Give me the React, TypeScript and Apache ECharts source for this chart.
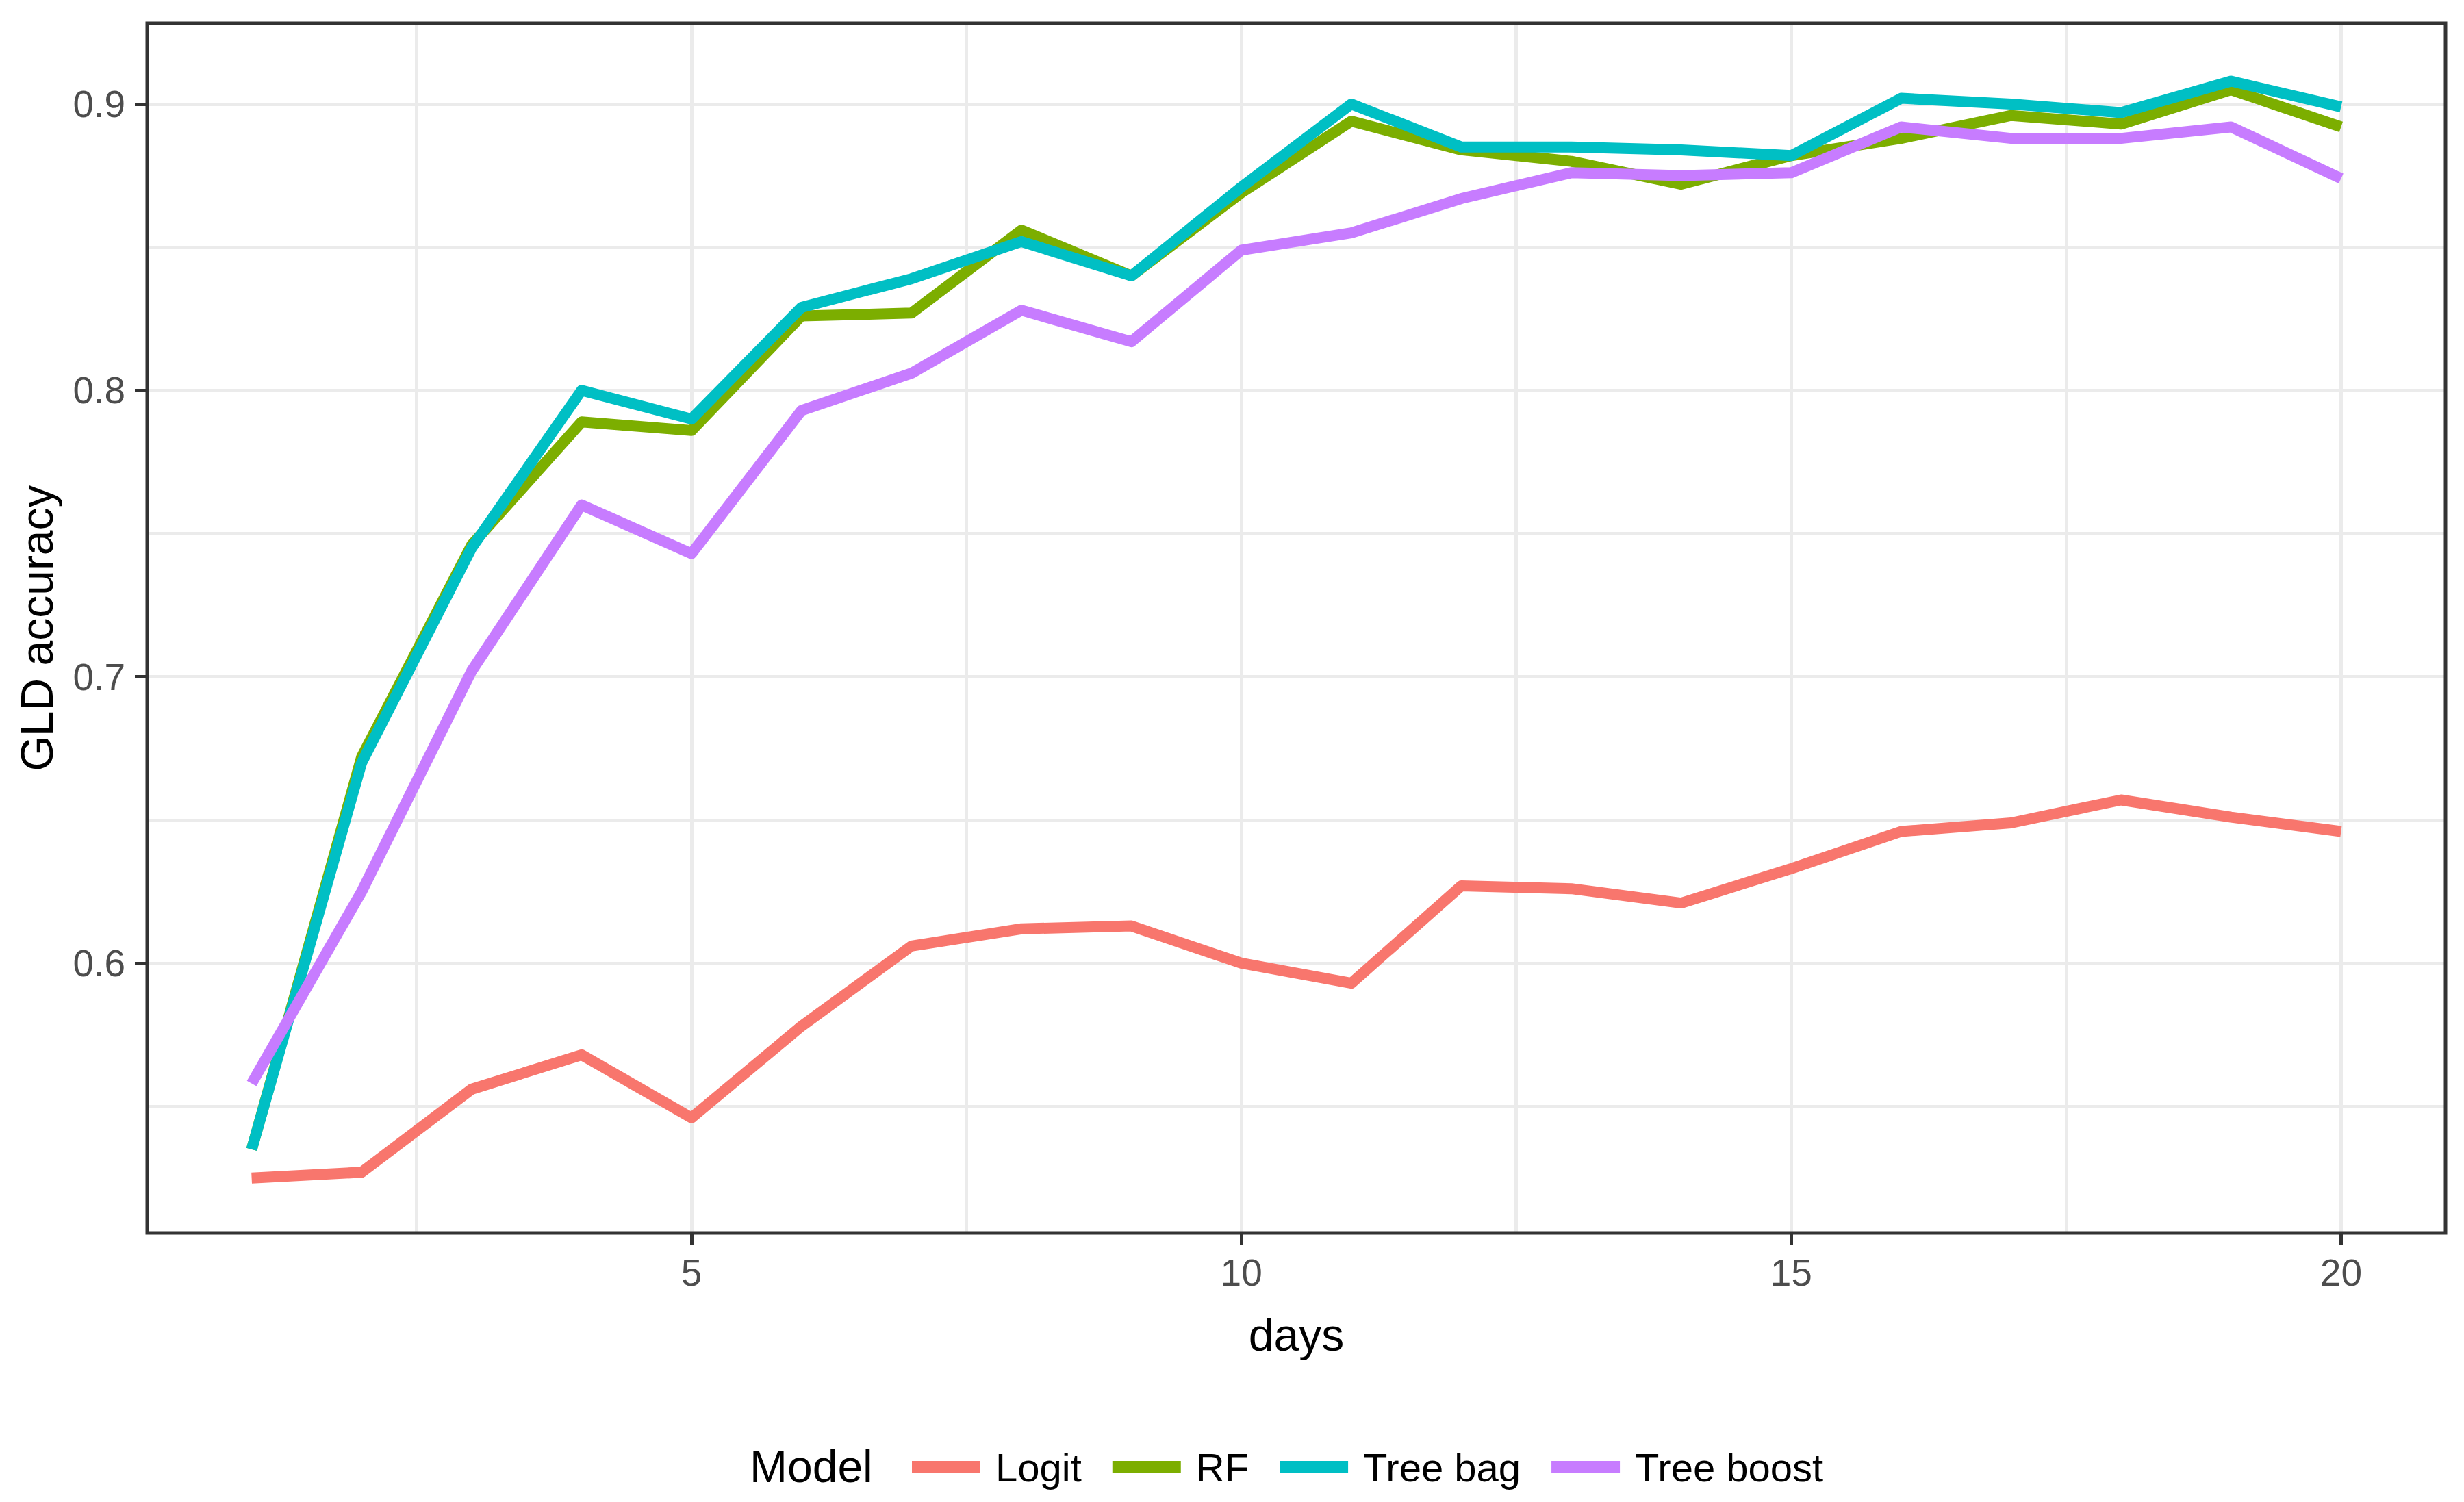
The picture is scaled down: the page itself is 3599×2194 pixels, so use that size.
import React, { useEffect, useRef } from "react";
import * as echarts from "echarts";

const days = [1, 2, 3, 4, 5, 6, 7, 8, 9, 10, 11, 12, 13, 14, 15, 16, 17, 18, 19, 20];
const logit = [0.525, 0.527, 0.556, 0.568, 0.546, 0.578, 0.606, 0.612, 0.613, 0.600, 0.593, 0.627, 0.626, 0.621, 0.633, 0.646, 0.649, 0.657, 0.651, 0.646];
const rf = [0.535, 0.672, 0.746, 0.789, 0.786, 0.826, 0.827, 0.856, 0.840, 0.869, 0.894, 0.884, 0.880, 0.872, 0.882, 0.888, 0.896, 0.893, 0.905, 0.892];
const treeBag = [0.535, 0.670, 0.745, 0.800, 0.790, 0.829, 0.839, 0.852, 0.840, 0.871, 0.900, 0.885, 0.885, 0.884, 0.882, 0.902, 0.900, 0.897, 0.908, 0.899];
const treeBoost = [0.558, 0.625, 0.702, 0.760, 0.743, 0.793, 0.806, 0.828, 0.817, 0.849, 0.855, 0.867, 0.876, 0.875, 0.876, 0.892, 0.888, 0.888, 0.892, 0.874];

const seriesNames = ["Logit", "RF", "Tree bag", "Tree boost"];
const seriesValues = [logit, rf, treeBag, treeBoost];
const seriesColors = ["#F8766D", "#7CAE00", "#00BFC4", "#C77CFF"];

const xTicks = [5, 10, 15, 20];
const yTicks = [0.6, 0.7, 0.8, 0.9];
const xGridValues = [2.5, 5, 7.5, 10, 12.5, 15, 17.5, 20];
const yGridValues = [0.55, 0.6, 0.65, 0.7, 0.75, 0.8, 0.85, 0.9];
const xRange = [0.05, 20.95];
const yRange = [0.5058, 0.9282];

const FONT = "'Liberation Sans', Arial, Helvetica, sans-serif";

export default function App() {
  const ref = useRef<HTMLDivElement | null>(null);

  useEffect(() => {
    if (!ref.current) return;
    const chart = echarts.init(ref.current, undefined, { renderer: "svg" });

    const gridLineData = [
      ...yGridValues.map((v) => ({ yAxis: v })),
      ...xGridValues.map((v) => ({ xAxis: v })),
    ];

    const series = seriesNames.map((name, i) => ({
      type: "line",
      name,
      data: days.map((d, j) => [d, seriesValues[i][j]]),
      showSymbol: false,
      symbol: "none",
      z: 2,
      lineStyle: { color: seriesColors[i], width: 16, join: "round", cap: "butt" },
      itemStyle: { color: seriesColors[i] },
      emphasis: { disabled: true },
      ...(i === 0
        ? {
            markLine: {
              silent: true,
              z: 1,
              symbol: ["none", "none"],
              label: { show: false },
              emphasis: { disabled: true },
              lineStyle: { color: "#EBEBEB", width: 5, type: "solid" },
              data: gridLineData,
              animation: false,
            },
          }
        : {}),
    }));

    chart.setOption({
      animation: false,
      backgroundColor: "#FFFFFF",
      textStyle: { fontFamily: FONT },
      grid: {
        left: 215,
        right: 27,
        top: 34,
        bottom: 393,
        show: true,
        borderColor: "#333333",
        borderWidth: 5,
        backgroundColor: "transparent",
        z: 3,
      },
      xAxis: {
        type: "value",
        min: xRange[0],
        max: xRange[1],
        axisLine: { show: false, onZero: false },
        splitLine: { show: false },
        axisTick: {
          show: true,
          customValues: xTicks,
          length: 18,
          lineStyle: { color: "#333333", width: 5 },
        },
        axisLabel: {
          customValues: xTicks,
          color: "#4D4D4D",
          fontSize: 55,
          margin: 30,
          fontFamily: FONT,
        },
        name: "days",
        nameLocation: "middle",
        nameGap: 116,
        nameTextStyle: { color: "#000000", fontSize: 66, fontFamily: FONT },
      },
      yAxis: {
        type: "value",
        min: yRange[0],
        max: yRange[1],
        axisLine: { show: false, onZero: false },
        splitLine: { show: false },
        axisTick: {
          show: true,
          customValues: yTicks,
          length: 18,
          lineStyle: { color: "#333333", width: 5 },
        },
        axisLabel: {
          customValues: yTicks,
          color: "#4D4D4D",
          fontSize: 55,
          margin: 32,
          fontFamily: FONT,
          formatter: (v: number) => v.toFixed(1),
        },
        name: "GLD accuracy",
        nameLocation: "middle",
        nameGap: 128,
        nameTextStyle: { color: "#000000", fontSize: 66, fontFamily: FONT },
      },
      legend: {
        left: 1327,
        top: 2109,
        icon: "rect",
        itemWidth: 100,
        itemHeight: 18,
        itemGap: 45,
        selectedMode: false,
        data: seriesNames,
        textStyle: { fontSize: 58, color: "#000000", fontFamily: FONT, padding: [0, 0, 0, 17] },
      },
      graphic: [
        {
          type: "text",
          x: 1095,
          y: 2142,
          silent: true,
          style: {
            text: "Model",
            fontSize: 66,
            fontFamily: FONT,
            fill: "#000000",
            align: "left",
            verticalAlign: "middle",
          },
        },
      ],
      series,
    });

    return () => {
      chart.dispose();
    };
  }, []);

  return (
    <div
      ref={ref}
      style={{ position: "fixed", left: 0, top: 0, width: 3599, height: 2194, background: "#fff" }}
    />
  );
}
